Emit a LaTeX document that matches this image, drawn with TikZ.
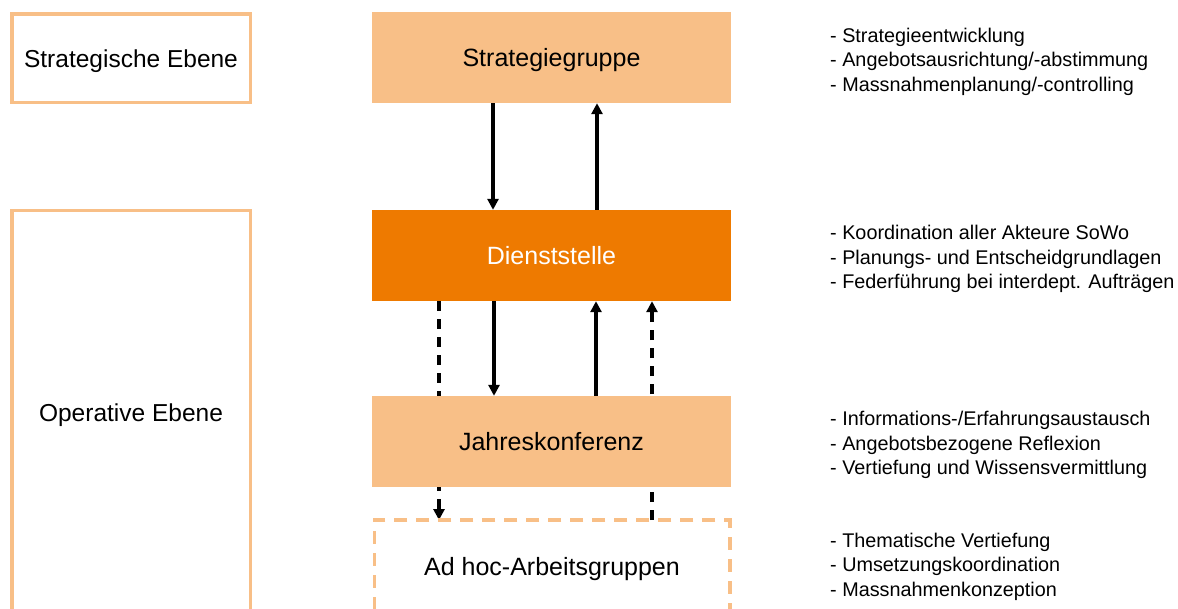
\documentclass[tikz,border=0pt]{standalone}
\usepackage{fontspec}
\setmainfont{Liberation Sans}
\usetikzlibrary{arrows.meta,backgrounds}
\definecolor{lightor}{HTML}{F8BF87}
\definecolor{darkor}{HTML}{EE7A00}
\tikzset{
  mainbox/.style={fill=lightor, minimum width=359pt, minimum height=91pt, inner sep=0pt,
    text height=18pt, text depth=0pt, font=\fontsize{25}{30}\selectfont, text=black},
  levelbox/.style={draw=lightor, line width=3.5pt, fill=white, minimum width=238.5pt, inner sep=0pt,
    text height=18pt, text depth=0pt, font=\fontsize{24.5}{30}\selectfont},
  adhocbox/.style={draw=lightor, line width=3.5pt, dash pattern=on 13pt off 9pt, minimum width=355.5pt,
    minimum height=92pt, inner sep=0pt, text height=18pt, text depth=0pt, font=\fontsize{25}{30}\selectfont},
  desc/.style={anchor=west, align=left, inner sep=0pt, font=\fontsize{19.8}{24.5}\selectfont},
  solidarrow/.style={line width=3.3pt, -{Triangle[width=11pt,length=11pt]}},
  dasharrow/.style={line width=3.3pt, dash pattern=on 10pt off 8pt, -{Triangle[width=11pt,length=11pt]}},
}
\begin{document}
\begin{tikzpicture}[x=1pt,y=-1pt]
\useasboundingbox (0,0) rectangle (1178,608);

% level boxes
\node[levelbox, minimum height=88.5pt] (strat) at (131,58) {Strategische Ebene};
\node[levelbox, minimum height=403pt] (oper) at (131,412) {Operative Ebene};

% main boxes
\node[mainbox] (sg) at (551.5,57.5) {Strategiegruppe};
\node[mainbox, fill=darkor, text=white] (ds) at (551.5,255.5) {Dienststelle};
\node[mainbox] (jk) at (551.5,441.5) {Jahreskonferenz};
\node[adhocbox] (ah) at (552,566) {Ad hoc-Arbeitsgruppen};

% descriptions
\node[desc] (d1) at (830,61.5) {- Strategieentwicklung\\- Angebotsausrichtung/-abstimmung\\- Massnahmenplanung/-controlling};
\node[desc] (d2) at (830,259) {- Koordination aller Akteure SoWo\\- Planungs- und Entscheidgrundlagen\\- Federführung bei interdept. Aufträgen};
\node[desc] (d3) at (830,445) {- Informations-/Erfahrungsaustausch\\- Angebotsbezogene Reflexion\\- Vertiefung und Wissensvermittlung};
\node[desc] (d4) at (830,566.5) {- Thematische Vertiefung\\- Umsetzungskoordination\\- Massnahmenkonzeption};

% helper x positions
\coordinate (xa) at (493,0);
\coordinate (xb) at (597,0);
\coordinate (xc) at (439,0);
\coordinate (xd) at (494,0);
\coordinate (xe) at (596,0);
\coordinate (xf) at (652,0);

% solid arrows
\draw[solidarrow] (sg.south -| xa) -- (ds.north -| xa);
\draw[solidarrow] (ds.north -| xb) -- (sg.south -| xb);
\draw[solidarrow] (ds.south -| xd) -- (jk.north -| xd);
\draw[solidarrow] (jk.north -| xe) -- (ds.south -| xe);

% dashed arrows behind Jahreskonferenz
\begin{scope}[on background layer]
\draw[dasharrow] (ds.south -| xc) -- ([yshift=-1.75pt]ah.north -| xc);
\draw[dasharrow] ([yshift=-1.75pt]ah.north -| xf) -- (ds.south -| xf);
\end{scope}
\end{tikzpicture}
\end{document}
